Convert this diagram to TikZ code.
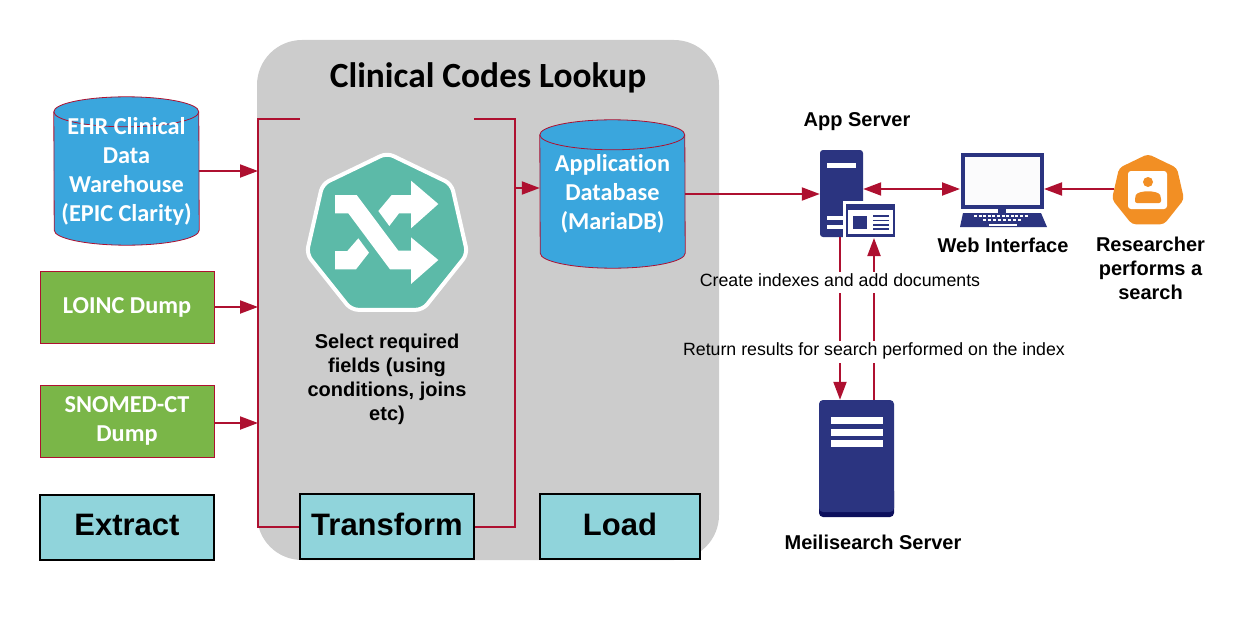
\documentclass[tikz,border=0pt]{standalone}
\usepackage{fontspec}
\setmainfont{Liberation Sans}
\newfontfamily\carlito[Ligatures=NoCommon]{Carlito}
\usepackage{xcolor}
\usepackage{tikz}
\usetikzlibrary{shapes, arrows.meta, positioning, calc}
\definecolor{wirered}{HTML}{AE1030}
\definecolor{dbblue}{HTML}{3AA6DD}
\definecolor{dumpgreen}{HTML}{7AB648}
\definecolor{stagecyan}{HTML}{90D4DB}
\definecolor{panelgray}{HTML}{CCCCCC}
\definecolor{navy}{HTML}{2B3480}
\definecolor{navydark}{HTML}{0C0F5C}
\definecolor{tealicon}{HTML}{5CBAA8}
\definecolor{orangeicon}{HTML}{F28F24}
\tikzset{
	db_box/.style={rectangle, minimum width=145pt, minimum height=148pt, inner sep=0pt},
	db_body/.style={draw=wirered, fill=dbblue, line width=0.8pt},
	db_rim/.style={draw=wirered, line width=0.8pt},
	db_text/.style={text=white, align=center, font=\carlito\bfseries\fontsize{24.3}{29}\selectfont},
	src_dump/.style={rectangle, draw=wirered, fill=dumpgreen, line width=0.8pt, minimum width=174pt, minimum height=72pt, inner sep=0pt, text=white, align=center, font=\carlito\bfseries\fontsize{24.3}{29}\selectfont},
	stage_box/.style={rectangle, draw=black, fill=stagecyan, line width=2pt, minimum height=65pt, inner sep=0pt, font=\bfseries\fontsize{31}{36}\selectfont},
	bold_label/.style={align=center, font=\bfseries\fontsize{20}{24}\selectfont},
	wire_label/.style={font=\fontsize{17.75}{20}\selectfont},
	icon_navy/.style={fill=navy, draw=none},
	icon_white/.style={fill=white, draw=none},
	conn_wire/.style={draw=wirered, line width=2pt},
	conn_arrow/.style={conn_wire, -{Triangle[length=18pt,width=13pt]}},
	conn_both/.style={conn_wire, {Triangle[length=18pt,width=13pt]}-{Triangle[length=18pt,width=13pt]}},
	wire_gap/.style={fill=white, inner sep=0pt, minimum width=6pt}
}
% cylinder body and rim drawn round an empty box node
\newcommand{\dbcyl}[1]{
	\path[db_body] ($(#1.north west)+(0,15)$) arc[start angle=180, end angle=360, x radius=72.5, y radius=15] -- ($(#1.south east)+(0,-15)$) arc[start angle=0, end angle=180, x radius=72.5, y radius=15] -- cycle;
	\draw[db_rim] ($(#1.north west)+(0,15)$) arc[start angle=180, end angle=0, x radius=72.5, y radius=15];
}
\begin{document}
\begin{tikzpicture}[x=1pt, y=-1pt]
	\useasboundingbox (0,0) rectangle (1256,626);
	% grey panel and title
	\node[fill=panelgray, rounded corners=45pt, minimum width=462pt, minimum height=520pt, inner sep=0pt] (panel) at (488,300) {};
	\node[font=\carlito\bfseries\fontsize{35.4}{40}\selectfont] (title) at (488,78) {Clinical Codes Lookup};

	% sources
	\node[db_box] (ehr) at (126.5,171) {};
	\dbcyl{ehr}
	\node[db_text] (ehrtext) at (ehr.center) {EHR Clinical\\Data\\Warehouse\\(EPIC Clarity)};
	\node[src_dump] (loinc) at (127,307) {LOINC Dump};
	\node[src_dump] (snomed) at (127,421) {SNOMED-CT\\Dump};

	% stage boxes
	\node[stage_box, minimum width=174pt] (extract) at (127,527.5) {\raisebox{5.5pt}{Extract}};
	\node[stage_box, minimum width=174pt] (transform) at (387,526.5) {\raisebox{3.5pt}{Transform}};
	\node[stage_box, minimum width=160pt] (load) at (620,526.5) {\raisebox{3.5pt}{Load}};

	% bracket round the transform step
	\coordinate (brk_lt) at (300,119);
	\coordinate (brk_rt) at (474,119);
	\coordinate (brk_l) at (258,119);
	\coordinate (brk_r) at (515,119);
	\draw[conn_wire] (brk_lt) -- (brk_l) -- (brk_l |- transform.west) -- (transform.west);
	\draw[conn_wire] (brk_rt) -- (brk_r) -- (brk_r |- transform.east) -- (transform.east);
	\draw[conn_arrow] (ehr.east) -- (ehr.east -| brk_l);
	\draw[conn_arrow] (loinc.east) -- (loinc.east -| brk_l);
	\draw[conn_arrow] (snomed.east) ++(0,2) -- (brk_l |- 0,423);

	% shuffle icon
	\node[regular polygon, regular polygon sides=7, minimum size=165pt, inner sep=0pt, fill=tealicon, draw=white, line width=4pt, rounded corners=7pt] (shuffle) at (387,235.5) {};
	\begin{scope}[shift={(290,140)}, scale=1/3]
		\fill[white] (135,165) -- (200,165) -- (325,332) -- (363,332) -- (363,292) -- (445,360) -- (363,432) -- (363,388) -- (300,388) -- (175,220) -- (135,220) -- cycle;
		\fill[white] (265,213) -- (305,165) -- (363,165) -- (363,122) -- (445,192) -- (363,265) -- (363,220) -- (327,220) -- (298,258) -- cycle;
		\fill[white] (135,333) -- (172,333) -- (205,295) -- (237,338) -- (198,388) -- (135,388) -- cycle;
	\end{scope}
	\node[bold_label] (select) at (387,379) {Select required\\fields (using\\conditions, joins\\etc)};

	% application database
	\node[db_box] (appdb) at (612.5,194) {};
	\dbcyl{appdb}
	\node[db_text] (appdbtext) at (appdb.center) {Application\\Database\\(MariaDB)};
	\coordinate (load_in) at (515,188);
	\draw[conn_arrow] (load_in) -- (load_in -| appdb.west);

	% app server
	\node[bold_label] (applabel) at (857,122) {App Server};
	\node[icon_navy, rounded corners=3pt, minimum width=43pt, minimum height=87pt, inner sep=0pt] (appsrv) at (841.5,193.5) {};
	\fill[icon_white] (827,163) rectangle (856,168);
	\fill[icon_white] (827,216) rectangle (845,220);
	\fill[icon_white] (827,225) rectangle (845,229);
	\fill[icon_white] (843,201) rectangle (896,238);
	\node[icon_navy, minimum width=49pt, minimum height=33pt, inner sep=0pt] (appcard) at (870.5,220.5) {};
	\fill[icon_white] (848,210) rectangle (893,234);
	\fill[icon_navy] (853,216) rectangle (867,229);
	\foreach \ly in {216,220.5,225,229}
		\fill[icon_navy] (873,\ly-0.8) rectangle (889,\ly+0.8);

	% web interface
	\node[rectangle, draw=navy, fill=white!98!navy, line width=4pt, minimum width=79pt, minimum height=52pt, inner sep=0pt] (web) at (1002,180.5) {};
	\fill[icon_navy] (998,208) rectangle (1006,213);
	\fill[icon_navy] (963,213) -- (1041,213) -- (1047,227) -- (960,227) -- cycle;
	\draw[white, line width=1.2pt, dash pattern=on 3pt off 1.6pt] (974,216) -- (1028,216);
	\draw[white, line width=1.5pt, dash pattern=on 3pt off 2pt] (983,220) -- (1022,220);
	\fill[icon_white] (989,224) rectangle (1017,226);
	\node[bold_label] (weblabel) at (1003,245) {Web Interface};

	% researcher
	\node[regular polygon, regular polygon sides=7, minimum size=74pt, inner sep=0pt, fill=orangeicon, rounded corners=4pt] (researcher) at (1148,191) {};
	\fill[icon_white, rounded corners=3pt] (1128,171) rectangle (1167,209);
	\fill[orangeicon] (1148,182) circle[radius=5];
	\fill[orangeicon, rounded corners=2pt] (1135,203) -- (1135,197) .. controls (1138,190) and (1158,190) .. (1161,197) -- (1161,203) -- cycle;
	\node[bold_label] (reslabel) at (1150.5,268) {Researcher\\performs a\\search};

	% meilisearch server
	\node[fill=navydark, rounded corners=4pt, minimum width=75pt, minimum height=30pt, inner sep=0pt] (meilibase) at (856.5,502) {};
	\node[icon_navy, rounded corners=4pt, minimum width=75pt, minimum height=112pt, inner sep=0pt] (meili) at (856.5,456) {};
	\fill[icon_white] (831,417) rectangle (883,424);
	\fill[icon_white] (831,429) rectangle (883,436);
	\fill[icon_white] (831,440) rectangle (883,447);
	\node[bold_label] (meililabel) at (873,542) {Meilisearch Server};

	% connectors on the right
	\coordinate (web_in) at (960,189);
	\coordinate (web_out) at (1044,189);
	\coordinate (srv_down) at (840,237);
	\coordinate (srv_up) at (874,238);
	\draw[conn_arrow] (appdb.east) -- (appdb.east -| appsrv.west);
	\draw[conn_both] (web_in -| appsrv.east) -- (web_in);
	\draw[conn_arrow] (web_out -| researcher.west) -- (web_out);
	\draw[conn_arrow] (srv_down) -- (srv_down |- meili.north);
	\draw[conn_arrow] (srv_up |- meili.north) -- (srv_up);
	\foreach \gx in {840,874} {
		\node[wire_gap, minimum height=21pt] (gap_a\gx) at (\gx,282.5) {};
		\node[wire_gap, minimum height=22pt] (gap_b\gx) at (\gx,352) {};
	}
	\node[wire_label] (createlabel) at (840,280) {Create indexes and add documents};
	\node[wire_label] (returnlabel) at (874,351) {Return results for search performed on the index};
\end{tikzpicture}
\end{document}
